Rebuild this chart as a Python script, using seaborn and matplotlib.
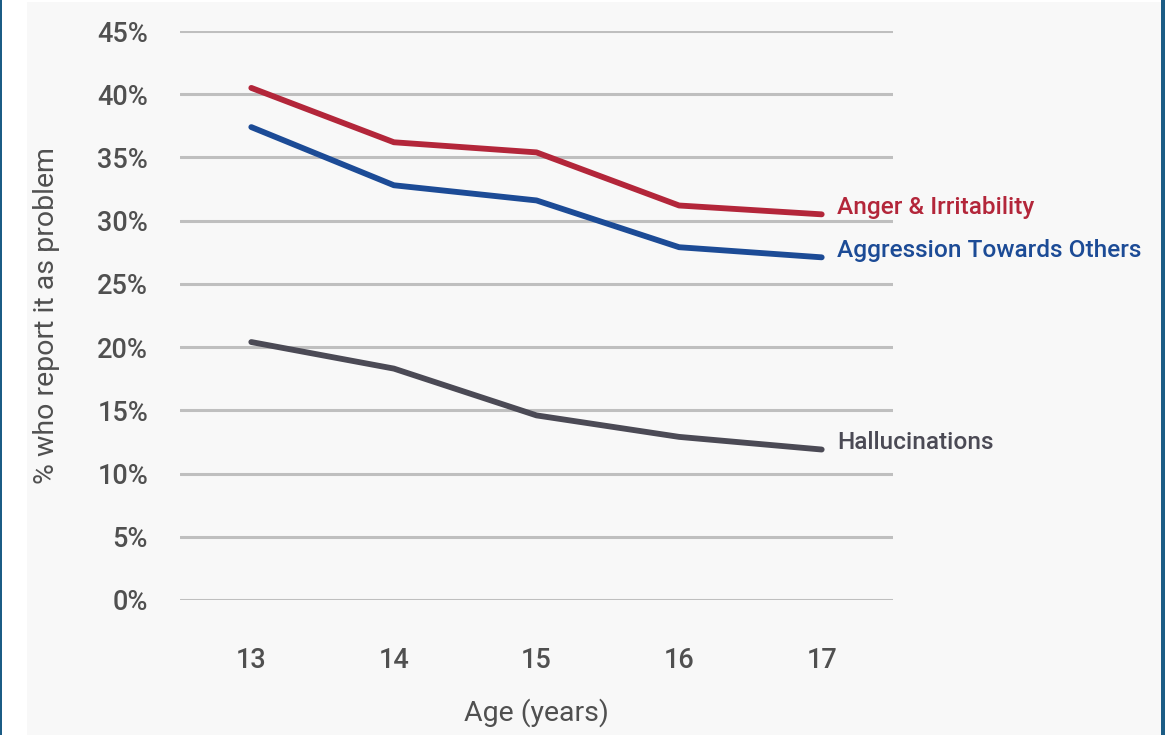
import matplotlib
matplotlib.use("Agg")
import matplotlib.pyplot as plt
import matplotlib.patches as mpatches
import pandas as pd
import seaborn as sns

# Share of youths who report each symptom as a problem, by age
ages = [13, 14, 15, 16, 17]
anger = [40.5, 36.2, 35.4, 31.2, 30.5]
aggression = [37.4, 32.8, 31.6, 27.9, 27.1]
hallucinations = [20.4, 18.3, 14.6, 12.9, 11.9]

series_names = ["Anger & Irritability", "Aggression Towards Others", "Hallucinations"]
series_colors = ["#b3263a", "#1c4b96", "#4b4a55"]
y_ticks = [0, 5, 10, 15, 20, 25, 30, 35, 40, 45]

df = pd.DataFrame({
    "age": ages * 3,
    "pct": anger + aggression + hallucinations,
    "series": [series_names[0]] * 5 + [series_names[1]] * 5 + [series_names[2]] * 5,
})

sns.set_theme(style="white")
plt.rcParams["font.family"] = ["Roboto", "DejaVu Sans"]
plt.rcParams["font.weight"] = "medium"

W, H = 1165, 735
fig = plt.figure(figsize=(W / 100, H / 100), dpi=100, facecolor="#f8f8f8")

# white margins and dark side rules around the panel
def strip(x0, y0, w, h, color):
    fig.patches.append(mpatches.Rectangle((x0 / W, y0 / H), w / W, h / H,
                                          transform=fig.transFigure, facecolor=color,
                                          edgecolor="none", zorder=-5))

strip(0, 0, 27, H, "white")
strip(0, H - 2, W, 2, "white")
strip(0, 0, 2, H, "#1b5c85")
strip(1161, 0, 4, H, "#1b5c85")

ax = fig.add_axes([180 / W, 135 / H, (893 - 180) / W, (600 - 31) / H])
ax.set_facecolor("none")

for yv in y_ticks:
    ax.axhline(yv, color="#bfbfbf", linewidth=2.2, zorder=1)

sns.lineplot(data=df, x="age", y="pct", hue="series", hue_order=series_names,
             palette=series_colors, linewidth=4.2, legend=False, ax=ax, zorder=3,
             solid_capstyle="round")

ax.set_xlim(12.5, 17.5)
ax.set_ylim(0, 45)
ax.set_xticks(ages)
ax.set_xticklabels([str(a) for a in ages])
ax.set_yticks(y_ticks)
ax.set_yticklabels([f"{v}%" for v in y_ticks])
ax.tick_params(axis="both", length=0, labelsize=19.5, labelcolor="#505050")
ax.tick_params(axis="y", pad=23)
ax.tick_params(axis="x", pad=34)
for s in ax.spines.values():
    s.set_visible(False)

ax.set_xlabel("Age (years)", fontsize=20.5, color="#505050", labelpad=17)
ax.set_ylabel("% who report it as problem", fontsize=20.5, color="#505050", labelpad=27)

ends = [anger[-1], aggression[-1], hallucinations[-1]]
for name, val, col in zip(series_names, ends, series_colors):
    ax.annotate(name, xy=(ages[-1], val), xytext=(11, 5), textcoords="offset points",
                color=col, fontsize=17.6, va="center", ha="left", annotation_clip=False)

fig.savefig("out.png", dpi=100, facecolor=fig.get_facecolor())
